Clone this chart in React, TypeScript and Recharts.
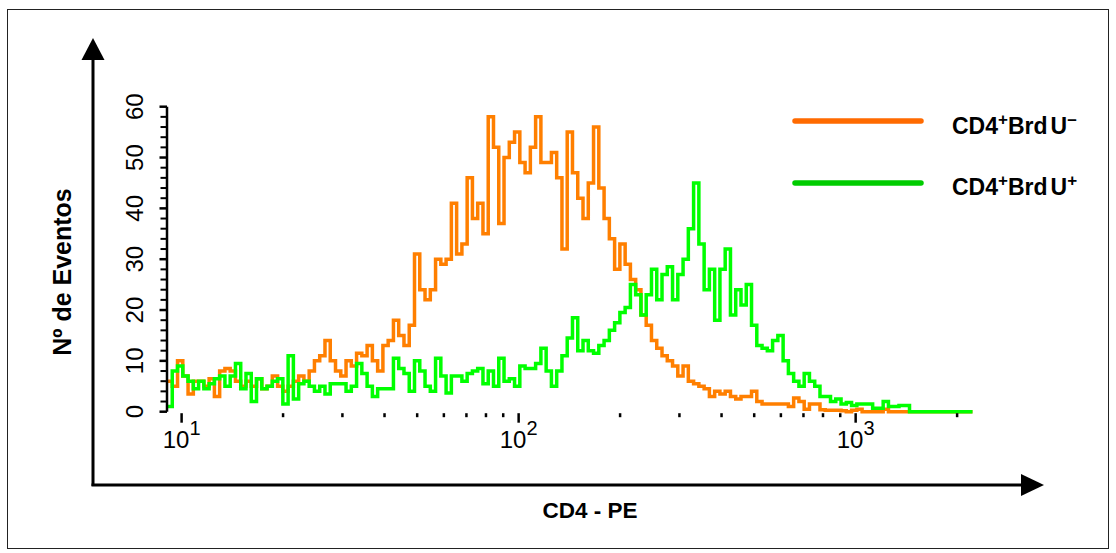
import { LineChart, Line, XAxis, YAxis } from "recharts"

// histogram counts per channel bin
const NEG_COUNTS = [
  6, 5, 10, 7, 3.5, 6, 6, 5, 6.5, 3, 8, 8.5, 8, 6, 5, 6, 5, 6.5, 4.5, 5,
  7, 5, 4, 5, 6, 7, 6, 8, 10, 11, 14, 10, 8, 7, 10, 9, 11.5, 11, 13, 10,
  8, 13, 14, 18, 15, 13, 17, 31, 24, 22, 24, 30, 29, 30, 41, 31, 33, 46, 38, 41,
  35, 58, 52, 37, 50, 53, 55, 49, 47, 52, 58, 49, 49, 51, 46, 32, 55, 47, 42, 38,
  45, 56, 44, 38, 34, 28, 33, 29, 26, 24, 19, 17, 14, 12.5, 11, 10, 9, 7, 9, 6,
  5.5, 5, 4.5, 3, 4, 3.5, 4, 3, 2.5, 3, 3, 4, 2, 1.5, 1.5, 1.5, 1.5, 1.5, 1, 2.7,
  2, 0.5, 1.5, 1.5, 0.4, 0.3, 0.3, 0.3, 0.2, 0, 0.3, 0.5, 0, 0, 0, 0, 0.5, 0, 0, 0,
  0, 0, 0, 0, 0, 0, 0, 0, 0, 0, 0, 0, 0,
]

const POS_COUNTS = [
  1, 8, 9, 7, 6, 4.5, 6, 4.5, 5.5, 6.5, 7, 5, 7, 9.5, 4.5, 7.5, 2, 6.5, 4.5, 5,
  6, 6.5, 1.5, 11, 2.5, 5.5, 6, 5, 4, 5, 3.5, 5.5, 5.5, 5.5, 4, 5, 9.5, 7.5, 5, 3,
  4.5, 4.5, 4.5, 10.5, 8.5, 7.5, 4, 10, 8, 5, 4, 10.5, 7, 3.7, 7, 7, 6, 7.5, 8, 8.5,
  5.5, 8, 5, 10.5, 6, 6.5, 5, 9, 8.5, 8.5, 9.5, 12.5, 8, 5, 8, 11, 14.5, 18.5, 12, 14,
  12, 11.5, 13, 14, 16, 17.5, 19.5, 20.5, 25, 23, 19, 23, 28, 22, 27, 28.5, 22, 27, 30, 36,
  45, 33, 24, 28, 18, 28, 32, 19, 24, 21, 25, 17, 13, 12.5, 12, 14, 15, 10, 7.5, 6,
  5, 7.5, 6, 5, 3, 3, 2, 2.5, 1.5, 1.8, 1.2, 1.5, 1.5, 1.5, 0.7, 0.7, 2, 1, 1, 1.2,
  1.2, 0, 0, 0, 0, 0, 0, 0, 0, 0, 0, 0, 0,
]

const FIRST_CHANNEL = 9.05
const BINS_PER_DECADE = 64

const X_TICKS = [10, 20, 30, 40, 50, 60, 70, 80, 90, 100, 200, 300, 400, 500, 600, 700, 800, 900, 1000, 2000]
const X_MAJOR = [10, 100, 1000]
const Y_TICKS = [0, 2, 4, 6, 8, 10, 12, 14, 16, 18, 20, 22, 24, 26, 28, 30, 32, 34, 36, 38, 40, 42, 44, 46, 48, 50, 52, 54, 56, 58, 60]

const NEG_LABEL = "CD4+BrdU-"
const POS_LABEL = "CD4+BrdU+"
const NEG_COLOR = "#ff7f00"
const POS_COLOR = "#00ff00"

const binEdge = (i: number) => FIRST_CHANNEL * Math.pow(10, i / BINS_PER_DECADE)

const chartData = NEG_COUNTS.map((v, i) => ({ channel: binEdge(i), neg: v, pos: POS_COUNTS[i] }))
chartData.push({
  channel: binEdge(NEG_COUNTS.length),
  neg: NEG_COUNTS[NEG_COUNTS.length - 1],
  pos: POS_COUNTS[POS_COUNTS.length - 1],
})
const X_MAX = binEdge(NEG_COUNTS.length)

const FONT = "'Liberation Sans', Arial, sans-serif"

function XTick({ x, y, payload }: any) {
  const v = payload.value
  const major = X_MAJOR.includes(v)
  return (
    <g>
      <line x1={x} x2={x} y1={y + 1.5} y2={y + (major ? 11 : 5.5)} stroke="#000" strokeWidth={2.5} />
      {major && (
        <text x={x} y={y + 36} textAnchor="middle" fontSize={24} fill="#000" fontFamily={FONT}>
          10<tspan dy={-13} fontSize={20}>{Math.round(Math.log10(v))}</tspan>
        </text>
      )}
    </g>
  )
}

function YTick({ x, y, payload }: any) {
  const major = payload.value % 10 === 0
  return (
    <g>
      <line x1={x - (major ? 7.5 : 6.5)} x2={x} y1={y} y2={y} stroke="#000" strokeWidth={major ? 2.5 : 2} />
      {major && (
        <text
          transform={`translate(${x - 24},${y}) rotate(-90)`}
          textAnchor="middle"
          fontSize={24}
          fill="#000"
          fontFamily="'Liberation Sans Narrow', 'Arial Narrow', sans-serif"
        >
          {payload.value}
        </text>
      )}
    </g>
  )
}

function LegendLabel({ y, sign }: { y: number; sign: string }) {
  return (
    <text x={952} y={y} fontSize={23} fontWeight="bold" fill="#000" fontFamily={FONT}>
      CD4<tspan dy={-9} fontSize={17}>+</tspan>
      <tspan dy={9}>Brd</tspan>
      <tspan dx={3}>U</tspan>
      <tspan dy={-9} fontSize={17}>{sign}</tspan>
    </text>
  )
}

export default function App() {
  return (
    <div style={{ position: "absolute", left: 0, top: 0, width: 1116, height: 553, background: "#fff", fontFamily: FONT }}>
      <LineChart
        width={1116}
        height={553}
        data={chartData}
        margin={{ top: 106.7, right: 143.3, left: 107, bottom: 91.3 }}
      >
        <XAxis
          dataKey="channel"
          type="number"
          scale="log"
          domain={[FIRST_CHANNEL, X_MAX]}
          allowDataOverflow
          ticks={X_TICKS}
          interval={0}
          height={50}
          tickSize={0}
          tickMargin={0}
          axisLine={false}
          tickLine={false}
          tick={(p: any) => <XTick {...p} />}
        />
        <YAxis
          type="number"
          domain={[0, 60]}
          ticks={Y_TICKS}
          interval={0}
          width={60}
          tickSize={0}
          tickMargin={0}
          axisLine={{ stroke: "#000", strokeWidth: 2.5 }}
          tickLine={false}
          tick={(p: any) => <YTick {...p} />}
        />
        <Line
          name={NEG_LABEL}
          dataKey="neg"
          type="stepAfter"
          stroke={NEG_COLOR}
          strokeWidth={3.5}
          dot={false}
          activeDot={false}
          isAnimationActive={false}
        />
        <Line
          name={POS_LABEL}
          dataKey="pos"
          type="stepAfter"
          stroke={POS_COLOR}
          strokeWidth={3.5}
          dot={false}
          activeDot={false}
          isAnimationActive={false}
        />
      </LineChart>
      <svg
        width={1116}
        height={553}
        style={{ position: "absolute", left: 0, top: 0, pointerEvents: "none" }}
      >
        <rect x={7.5} y={9.5} width={1101} height={539} fill="none" stroke="#222" strokeWidth={1} />
        {/* axis arrows */}
        <line x1={93} y1={486} x2={93} y2={58} stroke="#000" strokeWidth={3} />
        <polygon points="93,38 81.5,60 104.5,60" fill="#000" />
        <line x1={91.5} y1={485} x2={1022} y2={485} stroke="#000" strokeWidth={3} />
        <polygon points="1044,485 1021,474 1021,496" fill="#000" />
        {/* axis titles */}
        <text
          transform="translate(71,272) rotate(-90)"
          textAnchor="middle"
          fontSize={25}
          fontWeight="bold"
          fill="#000"
          fontFamily={FONT}
        >
          Nº de Eventos
        </text>
        <text x={590} y={518} textAnchor="middle" fontSize={22.5} fontWeight="bold" fill="#000" fontFamily={FONT}>
          CD4 - PE
        </text>
        {/* legend */}
        <line x1={795} y1={121} x2={921} y2={121} stroke="#ff6a00" strokeWidth={5.5} strokeLinecap="round" />
        <line x1={795} y1={183} x2={921} y2={183} stroke="#00cc00" strokeWidth={5.5} strokeLinecap="round" />
        <LegendLabel y={134} sign={"\u2013"} />
        <LegendLabel y={195} sign="+" />
      </svg>
    </div>
  )
}
